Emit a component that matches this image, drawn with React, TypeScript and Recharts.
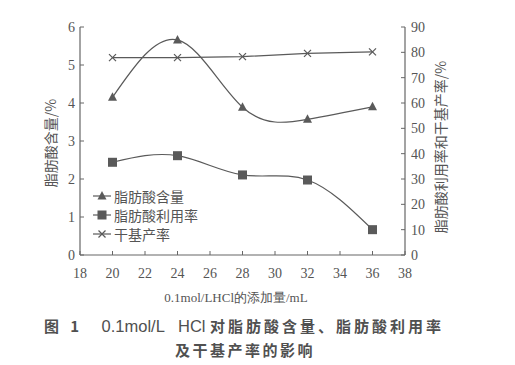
import React from 'react';
import { ComposedChart, Line, XAxis, YAxis } from 'recharts';

const xValues = [20, 24, 28, 32, 36];
const fattyAcidContent = [4.15, 5.66, 3.89, 3.57, 3.9];
const fattyAcidUtilization = [36.6, 39.2, 31.6, 29.6, 10];
const dryBasisYield = [77.9, 77.9, 78.3, 79.6, 80.2];

const xTicks = [18, 20, 22, 24, 26, 28, 30, 32, 34, 36, 38];
const leftTicks = [0, 1, 2, 3, 4, 5, 6];
const rightTicks = [0, 10, 20, 30, 40, 50, 60, 70, 80, 90];

const seriesNames = ['脂肪酸含量', '脂肪酸利用率', '干基产率'];
const xAxisTitle = '0.1mol/LHCl的添加量/mL';
const leftAxisTitle = '脂肪酸含量/%';
const rightAxisTitle = '脂肪酸利用率和干基产率/%';
const captionFig = '图 1';
const captionReagent = '0.1mol/L   HCl';
const captionRest = '对脂肪酸含量、脂肪酸利用率';
const captionLine2 = '及干基产率的影响';

const data = xValues.map((x, i) => ({
  x,
  content: fattyAcidContent[i],
  util: fattyAcidUtilization[i],
  dry: dryBasisYield[i],
}));

const INK = '#555';
const LINE = '#5a5a5a';
const CJK = '"Noto Sans CJK SC", "Noto Sans", sans-serif';
const LATIN = '"Liberation Sans", Arial, sans-serif';
const SERIF = '"Liberation Serif", "DejaVu Serif", serif';

const markerFor = (i: number, cx: number, cy: number) => {
  if (i === 0) return <polygon points={`${cx},${cy - 5} ${cx - 4.5},${cy + 3.5} ${cx + 4.5},${cy + 3.5}`} fill={LINE} />;
  if (i === 1) return <rect x={cx - 4.5} y={cy - 4.5} width={9} height={9} fill={LINE} />;
  return (
    <g stroke={LINE} strokeWidth={1.2}>
      <line x1={cx - 3.5} y1={cy - 3.5} x2={cx + 3.5} y2={cy + 3.5} />
      <line x1={cx - 3.5} y1={cy + 3.5} x2={cx + 3.5} y2={cy - 3.5} />
    </g>
  );
};

const makeDot = (i: number) => (props: any) => {
  const { cx, cy, index } = props;
  if (cx == null || cy == null) return <g key={`d${i}-${index}`} />;
  return <g key={`d${i}-${index}`}>{markerFor(i, cx, cy)}</g>;
};

const tickStyle = { fill: INK, fontFamily: SERIF, fontSize: 14 };
const axisLine = { stroke: '#666', strokeWidth: 1.2 };

export default function App() {
  return (
    <div style={{ position: 'absolute', left: 0, top: 0, width: 515, height: 365, background: '#fff' }}>
      <ComposedChart
        width={515}
        height={365}
        data={data}
        margin={{ top: 27, right: 50, bottom: 80, left: 0 }}
      >
        <XAxis
          dataKey="x"
          type="number"
          domain={[18, 38]}
          ticks={xTicks}
          interval={0}
          height={30}
          tick={tickStyle}
          tickSize={-4}
          tickMargin={17}
          axisLine={axisLine}
          tickLine={{ stroke: '#666' }}
        />
        <YAxis
          yAxisId="left"
          domain={[0, 6]}
          ticks={leftTicks}
          interval={0}
          width={80}
          tick={tickStyle}
          tickSize={-4}
          tickMargin={9}
          axisLine={axisLine}
          tickLine={{ stroke: '#666' }}
        />
        <YAxis
          yAxisId="right"
          orientation="right"
          domain={[0, 90]}
          ticks={rightTicks}
          interval={0}
          width={60}
          tick={{ ...tickStyle, textAnchor: 'start' }}
          tickSize={-4}
          tickMargin={10}
          axisLine={axisLine}
          tickLine={{ stroke: '#666' }}
        />
        <Line
          yAxisId="left"
          dataKey="content"
          name={seriesNames[0]}
          type="natural"
          stroke={LINE}
          strokeWidth={1.2}
          dot={makeDot(0)}
          activeDot={false}
          isAnimationActive={false}
        />
        <Line
          yAxisId="right"
          dataKey="util"
          name={seriesNames[1]}
          type="natural"
          stroke={LINE}
          strokeWidth={1.2}
          dot={makeDot(1)}
          activeDot={false}
          isAnimationActive={false}
        />
        <Line
          yAxisId="right"
          dataKey="dry"
          name={seriesNames[2]}
          type="linear"
          stroke={LINE}
          strokeWidth={1.2}
          dot={makeDot(2)}
          activeDot={false}
          isAnimationActive={false}
        />
      </ComposedChart>
      <div style={{ position: 'absolute', left: 93, top: 186, fontFamily: CJK, fontSize: 14, color: INK }}>
        {seriesNames.map((name, i) => (
          <div key={name} style={{ display: 'flex', alignItems: 'center', height: 19 }}>
            <svg width={20} height={14} style={{ marginRight: 1 }}>
              <line x1={0} y1={7} x2={18} y2={7} stroke={LINE} strokeWidth={1.2} />
              {markerFor(i, 9, 7)}
            </svg>
            <span>{name}</span>
          </div>
        ))}
      </div>
      <div
        style={{
          position: 'absolute', left: 50, top: 143, transform: 'translate(-50%, -50%) rotate(-90deg)',
          whiteSpace: 'nowrap', fontFamily: CJK, fontSize: 14, color: INK,
        }}
      >
        {leftAxisTitle}
      </div>
      <div
        style={{
          position: 'absolute', left: 440, top: 147, transform: 'translate(-50%, -50%) rotate(-90deg)',
          whiteSpace: 'nowrap', fontFamily: CJK, fontSize: 14, color: INK,
        }}
      >
        {rightAxisTitle}
      </div>
      <div
        style={{
          position: 'absolute', left: 236, top: 298, transform: 'translate(-50%, -50%)',
          whiteSpace: 'nowrap', fontFamily: SERIF, fontSize: 13, color: INK,
        }}
      >
        {xAxisTitle}
      </div>
      <div
        style={{
          position: 'absolute', left: 244, top: 325, transform: 'translate(-50%, -50%)',
          whiteSpace: 'pre', fontSize: 15, color: '#505050',
        }}
      >
        <span style={{ fontFamily: CJK, fontWeight: 700, letterSpacing: 4 }}>{captionFig}</span>
        <span style={{ fontFamily: LATIN, fontWeight: 400, fontSize: 16.5 }}>{'    ' + captionReagent + ' '}</span>
        <span style={{ fontFamily: CJK, fontWeight: 700, letterSpacing: 3 }}>{captionRest}</span>
      </div>
      <div
        style={{
          position: 'absolute', left: 245, top: 349, transform: 'translate(-50%, -50%)',
          whiteSpace: 'pre', fontFamily: CJK, fontSize: 15, fontWeight: 700, color: '#505050', letterSpacing: 2.5,
        }}
      >
        {captionLine2}
      </div>
    </div>
  );
}
